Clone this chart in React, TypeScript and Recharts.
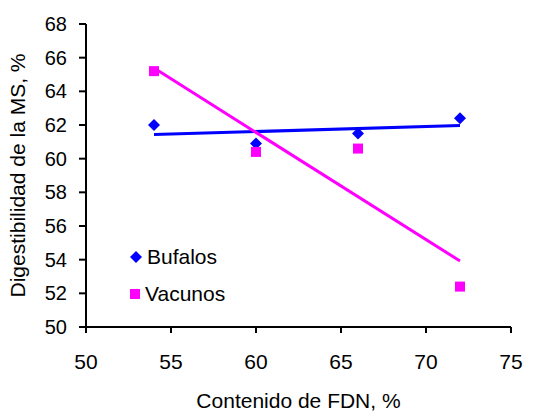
import { ScatterChart, Scatter, XAxis, YAxis, Label, Legend } from 'recharts';

// Contenido de FDN (%) y digestibilidad de la MS (%)
const fdn = [54, 60, 66, 72];
const bufalos = [62.0, 60.9, 61.5, 62.4];
const vacunos = [65.2, 60.4, 60.6, 52.4];

// extremos de las líneas de tendencia
const trendX = [54, 72];
const bufalosTrend = [61.43, 61.97];
const vacunosTrend = [65.38, 53.92];

const xTicks = [50, 55, 60, 65, 70, 75];
const yTicks = [50, 52, 54, 56, 58, 60, 62, 64, 66, 68];

const BLUE = '#0000FF';
const MAGENTA = '#FF00FF';
const FONT = '"Liberation Sans", Arial, sans-serif';

const toPoints = (xs: number[], ys: number[]) => xs.map((x, i) => ({ x, y: ys[i] }));

const Diamond = (props: any) => {
  const { cx, cy } = props;
  const r = 6;
  return <polygon points={`${cx},${cy - r} ${cx + r},${cy} ${cx},${cy + r} ${cx - r},${cy}`} fill={BLUE} />;
};

const Square = (props: any) => {
  const { cx, cy } = props;
  return <rect x={cx - 5} y={cy - 5} width={10} height={10} fill={MAGENTA} />;
};

const Nothing = () => <g />;

const LegendBox = () => (
  <div style={{ fontFamily: FONT, fontSize: 21, color: '#000', lineHeight: '37px' }}>
    <div style={{ display: 'flex', alignItems: 'center' }}>
      <svg width={14} height={14} style={{ marginRight: 4 }}>
        <polygon points="7,1 13,7 7,13 1,7" fill={BLUE} />
      </svg>
      Bufalos
    </div>
    <div style={{ display: 'flex', alignItems: 'center' }}>
      <svg width={14} height={14} style={{ marginRight: 2 }}>
        <rect x={1} y={2} width={10} height={10} fill={MAGENTA} />
      </svg>
      Vacunos
    </div>
  </div>
);

export default function App() {
  return (
    <div style={{ position: 'absolute', left: 0, top: 0, width: 551, height: 413, background: '#fff' }}>
      <ScatterChart width={551} height={413} margin={{ top: 24, right: 40, bottom: 0, left: 0 }}>
        <XAxis
          type="number"
          dataKey="x"
          domain={[50, 75]}
          ticks={xTicks}
          interval={0}
          height={86}
          tickSize={6}
          tickMargin={21}
          axisLine={{ stroke: '#000', strokeWidth: 2 }}
          tickLine={{ stroke: '#000', strokeWidth: 2 }}
          tick={{ fill: '#000', fontSize: 21, fontFamily: FONT }}
        >
          <Label
            value="Contenido de FDN, %"
            position="insideBottom"
            offset={5}
            style={{ fill: '#000', fontSize: 21, fontFamily: FONT }}
          />
        </XAxis>
        <YAxis
          type="number"
          dataKey="y"
          domain={[50, 68]}
          ticks={yTicks}
          interval={0}
          width={86}
          tickSize={7}
          tickMargin={12}
          axisLine={{ stroke: '#000', strokeWidth: 2 }}
          tickLine={{ stroke: '#000', strokeWidth: 2 }}
          tick={{ fill: '#000', fontSize: 20, fontFamily: FONT }}
        >
          <Label
            value="Digestibilidad de la MS, %"
            position="insideLeft"
            angle={-90}
            offset={18}
            style={{ fill: '#000', fontSize: 21, fontFamily: FONT, textAnchor: 'middle' }}
          />
        </YAxis>
        <Legend
          content={<LegendBox />}
          layout="vertical"
          verticalAlign="middle"
          align="center"
          wrapperStyle={{ left: 129, top: 238, width: 140 }}
        />
        <Scatter name="Bufalos" data={toPoints(fdn, bufalos)} shape={<Diamond />} isAnimationActive={false} />
        <Scatter name="Vacunos" data={toPoints(fdn, vacunos)} shape={<Square />} isAnimationActive={false} />
        <Scatter
          data={toPoints(trendX, bufalosTrend)}
          line={{ stroke: BLUE, strokeWidth: 3 }}
          shape={<Nothing />}
          legendType="none"
          isAnimationActive={false}
        />
        <Scatter
          data={toPoints(trendX, vacunosTrend)}
          line={{ stroke: MAGENTA, strokeWidth: 3 }}
          shape={<Nothing />}
          legendType="none"
          isAnimationActive={false}
        />
      </ScatterChart>
    </div>
  );
}
